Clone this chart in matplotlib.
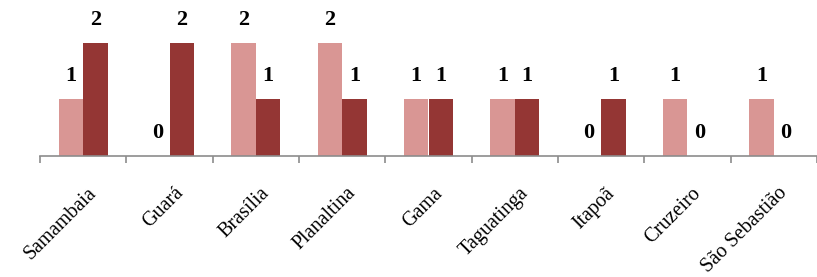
import matplotlib
matplotlib.use("Agg")
import matplotlib.pyplot as plt
import matplotlib.transforms as mtransforms
import numpy as np

categories = ["Samambaia", "Guará", "Brasília", "Planaltina", "Gama",
              "Taguatinga", "Itapoã", "Cruzeiro", "São Sebastião"]
series_light = [1, 0, 2, 2, 1, 1, 0, 1, 1]
series_dark = [2, 2, 1, 1, 1, 1, 1, 0, 0]

plt.rcParams['font.family'] = ['Liberation Serif', 'DejaVu Serif']

fig = plt.figure(figsize=(8.17, 2.77), dpi=100)
ax = fig.add_axes([40/817, (277-156)/277, 777/817, 141.6/277])

x = np.arange(len(categories))
w = 0.284
b1 = ax.bar(x - w/2, series_light, w, color="#D99694")
b2 = ax.bar(x + w/2, series_dark, w, color="#943634")

for bars, vals in ((b1, series_light), (b2, series_dark)):
    for r, v in zip(bars, vals):
        ax.annotate(str(v), (r.get_x() + r.get_width()/2, v),
                    xytext=(0, 16.5), textcoords="offset points",
                    ha="center", va="center", fontsize=16, fontweight="bold")

ax.set_xlim(-0.5, len(categories) - 0.5)
ax.set_ylim(0, 2.5)
for s in ("top", "right", "left"):
    ax.spines[s].set_visible(False)
ax.spines["bottom"].set_color("#8c8c8c")
ax.spines["bottom"].set_linewidth(1.2)
ax.set_yticks([])
ax.set_xticks(x)
ax.set_xticklabels(categories, rotation=45, ha="right", rotation_mode="anchor",
                   fontsize=14.5)
ax.tick_params(axis="x", which="major", length=0, pad=20)
offset = mtransforms.ScaledTranslation(3/72, 0, fig.dpi_scale_trans)
for lbl in ax.get_xticklabels():
    lbl.set_transform(lbl.get_transform() + offset)
ax.set_xticks(np.arange(-0.5, len(categories), 1), minor=True)
ax.tick_params(axis="x", which="minor", length=5, color="#8c8c8c", width=1.2)

fig.savefig("out.png", dpi=100)
